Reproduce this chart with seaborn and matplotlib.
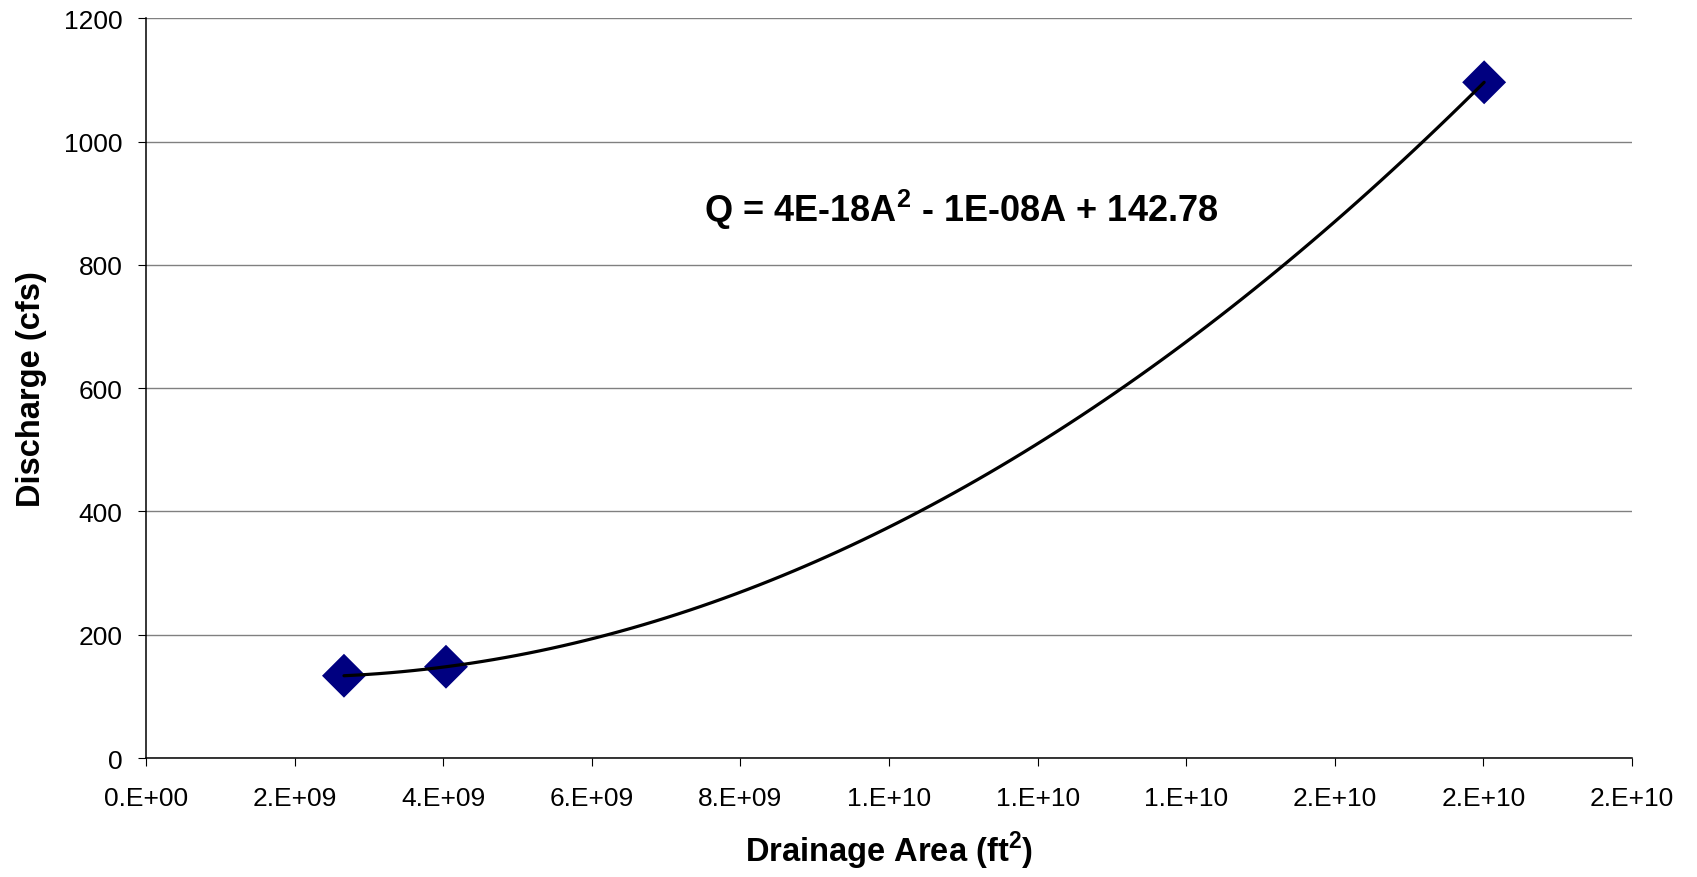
"""
Discharge vs drainage area with quadratic trendline.
"""

import numpy as np
import pandas as pd
import matplotlib
matplotlib.use("Agg")
import matplotlib.pyplot as plt
from matplotlib.ticker import MultipleLocator, FuncFormatter
import seaborn as sns


# ---------------------------------------------------------------------------
# Data
# ---------------------------------------------------------------------------
drainage_area = [2.665e9, 4.038e9, 18.01e9]     # ft^2
discharge     = [133.5, 148.1, 1096.2]          # cfs

equation_text = r"Q = 4E-18A$^{\mathbf{2}}$ - 1E-08A + 142.78"
x_label = r"Drainage Area (ft$^{\mathbf{2}}$)"
y_label = "Discharge (cfs)"

df = pd.DataFrame({"area": drainage_area, "q": discharge})


# ---------------------------------------------------------------------------
# Style
# ---------------------------------------------------------------------------
sns.set_theme(style="white")
plt.rcParams["font.family"] = ["Liberation Sans", "DejaVu Sans"]
plt.rcParams["mathtext.fontset"] = "custom"
plt.rcParams["mathtext.rm"] = "Liberation Sans"
plt.rcParams["mathtext.bf"] = "Liberation Sans:bold"
plt.rcParams["text.color"] = "black"
plt.rcParams["axes.labelcolor"] = "black"

fig = plt.figure(figsize=(16.97, 8.78), dpi=100)
ax = fig.add_axes([0.0860, 0.1355, 0.8757, 0.8425])

sns.regplot(
    data=df, x="area", y="q", order=2, ci=None, truncate=True, ax=ax,
    marker="D",
    scatter_kws={"s": 500, "color": "#000080",
                 "edgecolors": "none", "alpha": 1, "zorder": 3},
    line_kws={"color": "black", "lw": 2.3, "zorder": 4},
)

ax.set_xlim(0, 2e10)
ax.set_ylim(0, 1200)
ax.xaxis.set_major_locator(MultipleLocator(2e9))
ax.yaxis.set_major_locator(MultipleLocator(200))
ax.xaxis.set_major_formatter(FuncFormatter(lambda v, p: f"{v:#.0E}"))
ax.yaxis.set_major_formatter(FuncFormatter(lambda v, p: f"{v:.0f}"))

ax.yaxis.grid(True, color="#808080", lw=1.0)
ax.xaxis.grid(False)
ax.set_axisbelow(True)

for side in ("top", "right"):
    ax.spines[side].set_visible(False)
for side in ("left", "bottom"):
    ax.spines[side].set_color("black")
    ax.spines[side].set_linewidth(1.1)

ax.tick_params(axis="both", direction="out", length=6, width=0.8,
               color="black", labelsize=19, labelcolor="black",
               bottom=True, left=True)
ax.tick_params(axis="x", pad=14)
ax.tick_params(axis="y", pad=11)

ax.set_xlabel(x_label, fontsize=23.5, fontweight="bold", labelpad=14)
ax.set_ylabel(y_label, fontsize=23.5, fontweight="bold", labelpad=12)

ax.text(1.097e10, 891, equation_text, fontsize=26, fontweight="bold",
        ha="center", va="center", color="black")

fig.savefig("out.png", dpi=100)
plt.close(fig)
